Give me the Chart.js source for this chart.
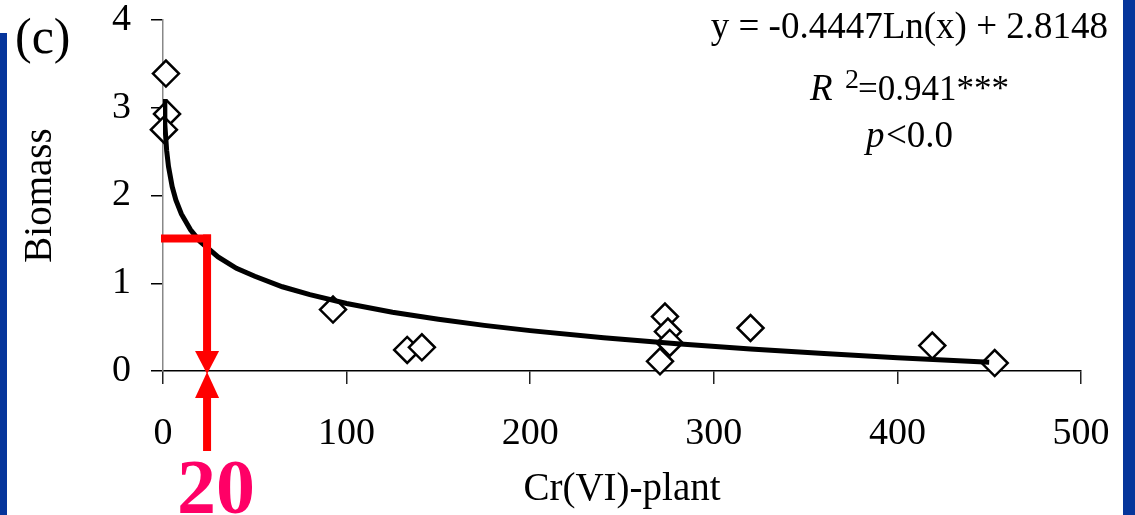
<!DOCTYPE html>
<html>
<head>
<meta charset="utf-8">
<script src="https://cdn.jsdelivr.net/npm/chart.js@4"></script>
<style>
  html, body { margin: 0; padding: 0; background: #fff; }
  #wrap { width: 1135px; height: 515px; }
</style>
</head>
<body>
<div id="wrap"><canvas id="chartBiomass"></canvas></div>
<script>
// measured points
const crPlant = [1.6, 2.2, 0.5, 92.6, 133, 141, 273.4, 275, 276, 270.7, 320, 419, 453];
const biomass = [3.39, 2.93, 2.75, 0.70, 0.24, 0.27, 0.62, 0.45, 0.32, 0.11, 0.49, 0.29, 0.09];

// trend line
const trendX = [0.6, 1, 2, 3, 5, 7, 10, 15, 20, 30, 40, 50, 65, 80, 100, 125, 150, 175, 200, 240, 280, 320, 360, 400, 450];
const trendY = [3.1, 2.81, 2.51, 2.33, 2.10, 1.95, 1.79, 1.61, 1.48, 1.30, 1.17, 1.08, 0.96, 0.87, 0.77, 0.67, 0.59, 0.52, 0.46, 0.38, 0.31, 0.25, 0.20, 0.15, 0.10];

const xTicks = [0, 100, 200, 300, 400, 500];
const yTicks = [0, 1, 2, 3, 4];

// threshold marker (red arrows)
const refX = 24;
const refY = 1.51;
const refLabel = '20';

const equation = 'y = -0.4447Ln(x) + 2.8148';
const r2Text = '=0.941***';
const pText = '<0.0';

const SERIF = '"Liberation Serif", "Times New Roman", serif';
const BLUE = '#06359b';

const pageDecor = {
  id: 'pageDecor',
  beforeDraw(chart) {
    const c = chart.ctx;
    c.save();
    c.fillStyle = '#fff';
    c.fillRect(0, 0, chart.width, chart.height);
    c.fillStyle = BLUE;
    c.fillRect(0, 33, 7, chart.height - 33);
    c.fillRect(1123, 0, chart.width - 1123, chart.height);
    c.restore();
  },
  afterDraw(chart) {
    const c = chart.ctx;
    const xs = chart.scales.x, ys = chart.scales.y;
    const px = xs.getPixelForValue(refX);
    const py = ys.getPixelForValue(refY);
    const y0 = ys.getPixelForValue(0);
    const left = chart.chartArea.left;
    c.save();
    c.fillStyle = '#ff0000';
    // horizontal bar + down arrow
    c.fillRect(left - 2, py - 4, px + 4 - (left - 2), 8);
    c.fillRect(px - 4, py - 4, 8, (y0 - 19) - (py - 4));
    c.beginPath();
    c.moveTo(px - 12, y0 - 20);
    c.lineTo(px + 12, y0 - 20);
    c.lineTo(px, y0 + 3);
    c.closePath();
    c.fill();
    // up arrow below the axis
    c.beginPath();
    c.moveTo(px, y0 + 1);
    c.lineTo(px + 12, y0 + 27);
    c.lineTo(px - 12, y0 + 27);
    c.closePath();
    c.fill();
    c.fillRect(px - 4, y0 + 26, 8, 54);

    c.fillStyle = '#ff0066';
    c.font = 'bold 78px ' + SERIF;
    c.textAlign = 'center';
    c.textBaseline = 'alphabetic';
    c.fillText(refLabel, px + 9, 513);

    // panel letter
    c.fillStyle = '#000';
    c.font = '50px ' + SERIF;
    c.textAlign = 'left';
    c.fillText('(c)', 15, 53);

    // regression text
    c.font = '37px ' + SERIF;
    c.textAlign = 'right';
    c.fillText(equation, 1108, 38);

    c.textAlign = 'left';
    c.font = 'italic 37px ' + SERIF;
    c.fillText('R', 810, 100);
    c.font = '28px ' + SERIF;
    c.fillText('2', 845, 88);
    c.font = '35px ' + SERIF;
    c.fillText(r2Text, 858, 100);

    c.font = 'italic 37px ' + SERIF;
    c.fillText('p', 866, 147);
    c.font = '37px ' + SERIF;
    c.fillText(pText, 886, 147);
    c.restore();
  }
};

new Chart(document.getElementById('chartBiomass').getContext('2d'), {
  type: 'scatter',
  data: {
    datasets: [{
      type: 'line',
      label: 'trend',
      data: trendX.map((x, i) => ({ x: x, y: trendY[i] })),
      borderColor: '#000',
      borderWidth: 5,
      pointRadius: 0,
      tension: 0,
      fill: false,
      order: 0
    }, {
      label: 'Biomass',
      data: crPlant.map((x, i) => ({ x: x, y: biomass[i] })),
      pointStyle: 'rectRot',
      pointRadius: 13,
      pointHoverRadius: 13,
      pointBorderWidth: 2.5,
      pointBorderColor: '#000',
      pointBackgroundColor: '#fff',
      clip: false,
      order: 1
    }]
  },
  options: {
    responsive: true,
    maintainAspectRatio: false,
    animation: false,
    events: [],
    layout: { padding: { left: 0, right: 54, top: 20, bottom: 0 } },
    plugins: { legend: { display: false }, tooltip: { enabled: false } },
    scales: {
      x: {
        type: 'linear',
        min: 0, max: 500,
        afterBuildTicks: s => { s.ticks = xTicks.map(v => ({ value: v })); },
        afterFit: s => { s.height = 144; s.paddingLeft = 0; s.paddingRight = 0; },
        border: { color: '#000', width: 1.5 },
        grid: { drawOnChartArea: false, drawTicks: true, tickLength: 13, color: '#222', lineWidth: 1.5 },
        ticks: { color: '#000', padding: 27, font: { family: SERIF, size: 38 }, maxRotation: 0 },
        title: { display: true, text: 'Cr(VI)-plant', color: '#000', font: { family: SERIF, size: 39 }, padding: { top: 2, bottom: 2 } }
      },
      y: {
        min: 0, max: 4,
        afterBuildTicks: s => { s.ticks = yTicks.map(v => ({ value: v })); },
        afterFit: s => { s.width = 163; s.paddingTop = 0; s.paddingBottom = 0; },
        border: { color: '#888', width: 1.5 },
        grid: { drawOnChartArea: false, drawTicks: true, tickLength: 12, color: '#000', lineWidth: 1.5 },
        ticks: { color: '#000', padding: 20, font: { family: SERIF, size: 38 } },
        title: { display: true, text: 'Biomass', color: '#000', font: { family: SERIF, size: 39 }, padding: { top: 17, bottom: 17 } }
      }
    }
  },
  plugins: [pageDecor]
});
</script>
</body>
</html>
